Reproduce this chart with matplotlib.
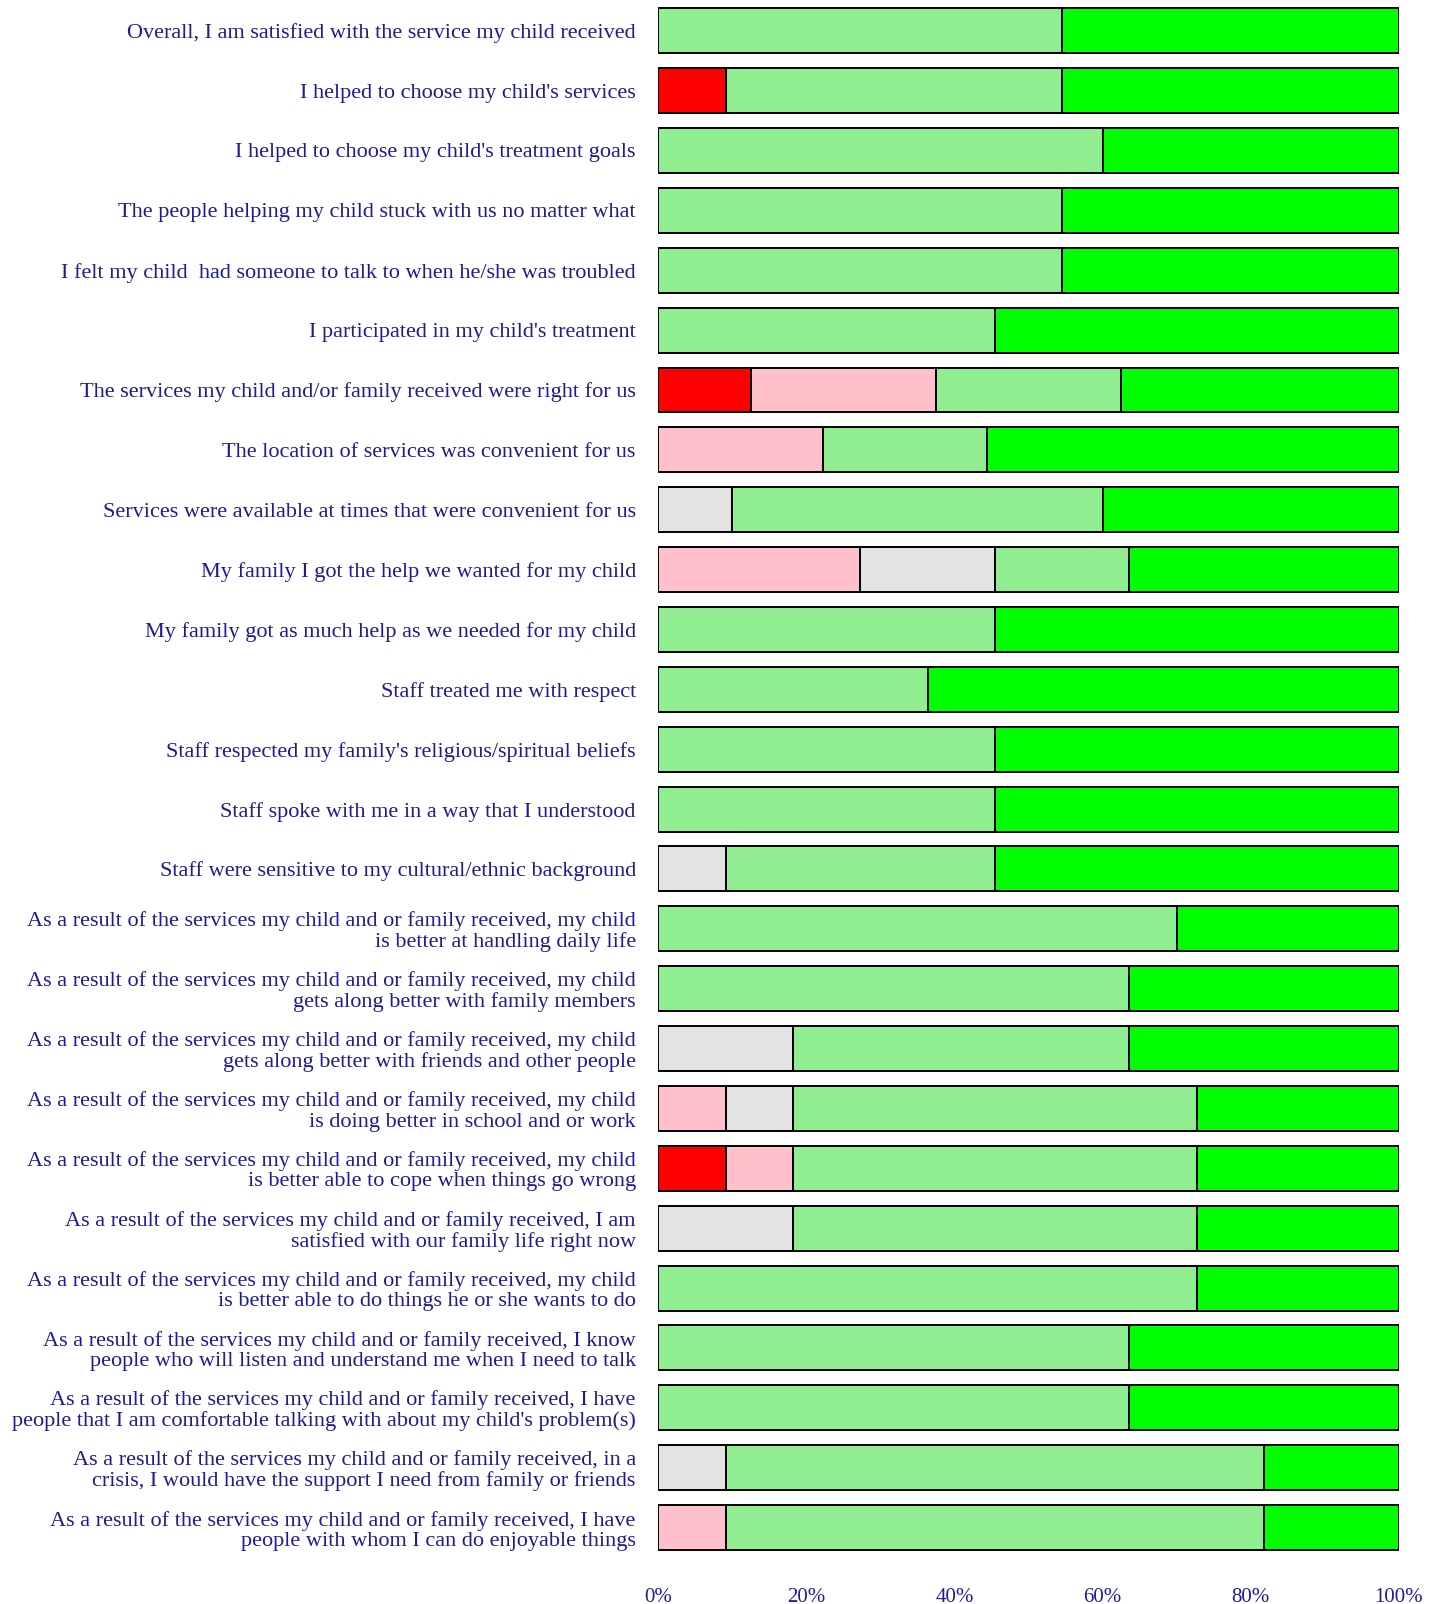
import matplotlib
matplotlib.use('Agg')
import matplotlib.pyplot as plt
import matplotlib.transforms as mtransforms
import numpy as np

# Preguntas (de arriba a abajo)
preguntas = [
    "Overall, I am satisfied with the service my child received",
    "I helped to choose my child's services",
    "I helped to choose my child's treatment goals",
    "The people helping my child stuck with us no matter what",
    "I felt my child  had someone to talk to when he/she was troubled",
    "I participated in my child's treatment",
    "The services my child and/or family received were right for us",
    "The location of services was convenient for us",
    "Services were available at times that were convenient for us",
    "My family I got the help we wanted for my child",
    "My family got as much help as we needed for my child",
    "Staff treated me with respect",
    "Staff respected my family's religious/spiritual beliefs",
    "Staff spoke with me in a way that I understood",
    "Staff were sensitive to my cultural/ethnic background",
    "As a result of the services my child and or family received, my child\nis better at handling daily life",
    "As a result of the services my child and or family received, my child\ngets along better with family members",
    "As a result of the services my child and or family received, my child\ngets along better with friends and other people",
    "As a result of the services my child and or family received, my child\nis doing better in school and or work",
    "As a result of the services my child and or family received, my child\nis better able to cope when things go wrong",
    "As a result of the services my child and or family received, I am\nsatisfied with our family life right now",
    "As a result of the services my child and or family received, my child\nis better able to do things he or she wants to do",
    "As a result of the services my child and or family received, I know\npeople who will listen and understand me when I need to talk",
    "As a result of the services my child and or family received, I have\npeople that I am comfortable talking with about my child's problem(s)",
    "As a result of the services my child and or family received, in a\ncrisis, I would have the support I need from family or friends",
    "As a result of the services my child and or family received, I have\npeople with whom I can do enjoyable things",
]

# Porcentajes por categoría de respuesta
muy_desacuerdo = [0, 9.1, 0, 0, 0, 0, 12.5, 0, 0, 0, 0, 0, 0, 0, 0,
                  0, 0, 0, 0, 9.1, 0, 0, 0, 0, 0, 0]
desacuerdo = [0, 0, 0, 0, 0, 0, 25.0, 22.2, 0, 27.3, 0, 0, 0, 0, 0,
              0, 0, 0, 9.1, 9.1, 0, 0, 0, 0, 0, 9.1]
indeciso = [0, 0, 0, 0, 0, 0, 0, 0, 10.0, 18.2, 0, 0, 0, 0, 9.1,
            0, 0, 18.2, 9.1, 0, 18.2, 0, 0, 0, 9.1, 0]
de_acuerdo = [54.5, 45.4, 60.0, 54.5, 54.5, 45.5, 25.0, 22.2, 50.0, 18.1, 45.5, 36.4, 45.5, 45.5, 36.4,
              70.0, 63.6, 45.4, 54.5, 54.5, 54.5, 72.7, 63.6, 63.6, 72.7, 72.7]
muy_de_acuerdo = [45.5, 45.5, 40.0, 45.5, 45.5, 54.5, 37.5, 55.6, 40.0, 36.4, 54.5, 63.6, 54.5, 54.5, 54.5,
                  30.0, 36.4, 36.4, 27.3, 27.3, 27.3, 27.3, 36.4, 36.4, 18.2, 18.2]

series = [muy_desacuerdo, desacuerdo, indeciso, de_acuerdo, muy_de_acuerdo]
colores = ['#ff0000', '#ffc0cb', '#e3e3e3', '#90ee90', '#00ff00']

azul = '#1c1c96'

fig = plt.figure(figsize=(14.4, 16.04), dpi=100)
ax = fig.add_axes([0.457, 0.029, 0.5145, 0.9705])

y = np.arange(len(preguntas))
izquierda = np.zeros(len(preguntas))
for valores, color in zip(series, colores):
    valores = np.array(valores)
    ax.barh(y, valores, left=izquierda, height=0.75, color=color,
            edgecolor='black', linewidth=1.4)
    izquierda += valores

ax.set_ylim(len(preguntas) - 0.5, -0.5)
ax.set_xlim(0, 100)
ax.set_yticks(y)
ax.set_yticklabels(preguntas, fontsize=16, color=azul, family='Liberation Serif')
# Bajamos un poco las etiquetas y separamos las líneas
desplazamiento = mtransforms.ScaledTranslation(0, -2.5 / 72, fig.dpi_scale_trans)
for t in ax.get_yticklabels():
    t.set_linespacing(1.08)
    t.set_transform(t.get_transform() + desplazamiento)
ax.set_xticks([0, 20, 40, 60, 80, 100])
ax.set_xticklabels(['0%', '20%', '40%', '60%', '80%', '100%'], fontsize=15,
                   color=azul, family='Liberation Serif')
ax.tick_params(axis='y', length=0, pad=16)
ax.tick_params(axis='x', length=0, pad=22)
for s in ax.spines.values():
    s.set_visible(False)

fig.savefig('out.png', dpi=100)
